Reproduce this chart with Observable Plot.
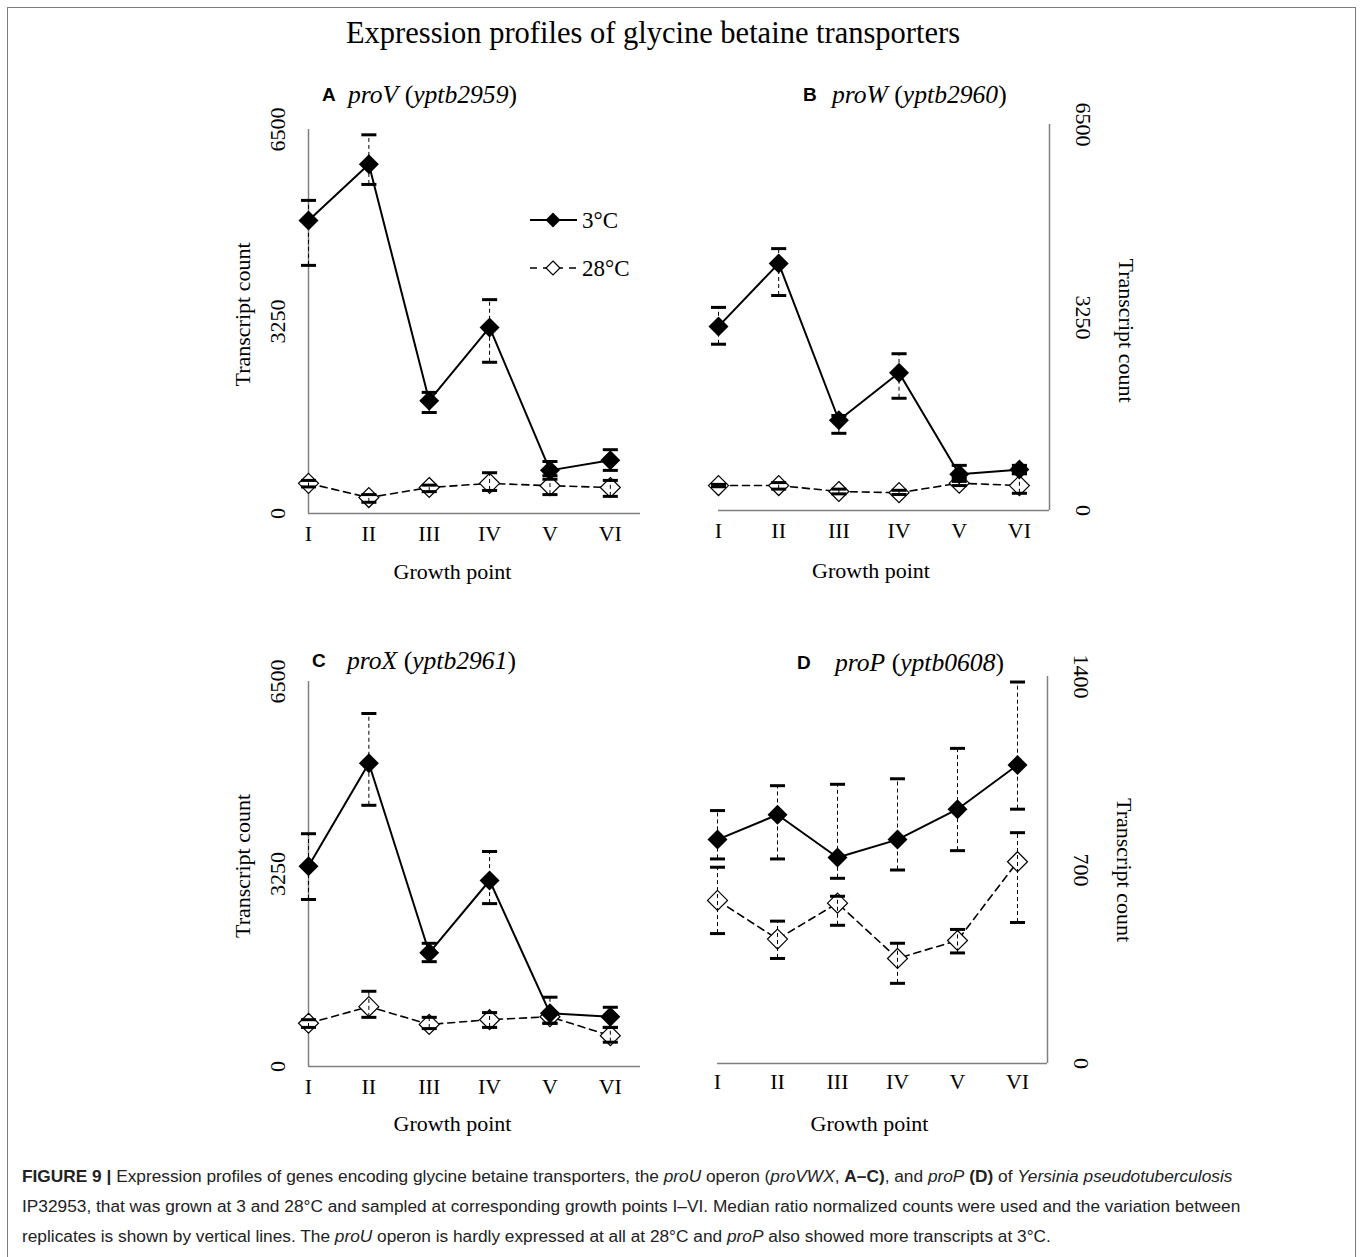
<!DOCTYPE html>
<html><head><meta charset="utf-8">
<script src="https://cdn.jsdelivr.net/npm/d3@7"></script>
<script src="https://cdn.jsdelivr.net/npm/@observablehq/plot@0.6"></script>
<style>
html,body{margin:0;padding:0;background:#fff;}
body{width:1360px;height:1257px;overflow:hidden;position:relative;font-family:"Liberation Serif","Times New Roman",serif;color:#000;}
.abs{position:absolute;}
#frame{left:7px;top:7px;width:1349px;height:1275px;border:1.5px solid #7c7c7c;box-sizing:border-box;}
#title{left:0;width:1306px;top:13px;text-align:center;font-size:30.5px;line-height:40px;white-space:nowrap;}
.letter{font-family:"Liberation Sans",Arial,sans-serif;font-weight:bold;font-size:19px;line-height:30px;}
.gene{font-size:25.6px;line-height:30px;white-space:nowrap;}
.panel{width:520px;height:530px;}
.cap{left:22px;font-family:"Liberation Sans",Arial,sans-serif;font-size:17.3px;line-height:30px;color:#222;white-space:nowrap;}
</style>
</head><body>
<div id="frame" class="abs"></div>
<div id="title" class="abs">Expression profiles of glycine betaine transporters</div>

<div class="abs letter" style="left:322px;top:80px">A</div>
<div class="abs gene" style="left:348px;top:80px"><i>proV</i> (<i>yptb2959</i>)</div>
<div class="abs letter" style="left:803px;top:80px">B</div>
<div class="abs gene" style="left:832px;top:80px"><i>proW</i> (<i>yptb2960</i>)</div>
<div class="abs letter" style="left:312px;top:646px">C</div>
<div class="abs gene" style="left:347px;top:646px"><i>proX</i> (<i>yptb2961</i>)</div>
<div class="abs letter" style="left:797px;top:648px">D</div>
<div class="abs gene" style="left:835px;top:648px"><i>proP</i> (<i>yptb0608</i>)</div>

<div id="pA" class="abs panel" style="left:190px;top:60px"></div>
<div id="pB" class="abs panel" style="left:640px;top:60px"></div>
<div id="pC" class="abs panel" style="left:190px;top:620px"></div>
<div id="pD" class="abs panel" style="left:640px;top:620px"></div>

<svg class="abs" style="left:520px;top:200px" width="120" height="90">
  <line x1="10" y1="20" x2="57" y2="20" stroke="#000" stroke-width="2"/>
  <path d="M33,12.5L40.5,20L33,27.5L25.5,20Z" fill="#000"/>
  <text x="62" y="20" dy="0.35em" font-size="23" font-family="Liberation Serif">3°C</text>
  <line x1="10" y1="68" x2="57" y2="68" stroke="#000" stroke-width="1.5" stroke-dasharray="7,6"/>
  <path d="M33,61L40,68L33,75L26,68Z" fill="#fff" stroke="#000" stroke-width="1.2"/>
  <text x="62" y="68" dy="0.35em" font-size="23" font-family="Liberation Serif">28°C</text>
</svg>

<div class="abs cap" style="top:1161px"><b>FIGURE 9 |</b> Expression profiles of genes encoding glycine betaine transporters, the <i>proU</i> operon (<i>proVWX</i>, <b>A–C)</b>, and <i>proP</i> <b>(D)</b> of <i>Yersinia pseudotuberculosis</i></div>
<div class="abs cap" style="top:1191px">IP32953, that was grown at 3 and 28°C and sampled at corresponding growth points I–VI. Median ratio normalized counts were used and the variation between</div>
<div class="abs cap" style="top:1221px">replicates is shown by vertical lines. The <i>proU</i> operon is hardly expressed at all at 28°C and <i>proP</i> also showed more transcripts at 3°C.</div>

<script>
// ---- data ----
const growthPoints = ["I", "II", "III", "IV", "V", "VI"];
const pointIndex = [0, 1, 2, 3, 4, 5];

const proV_3C      = [4960, 5910, 1910, 3150, 730, 900];
const proV_3C_low  = [4200, 5570, 1710, 2560, 640, 730];
const proV_3C_high = [5300, 6410, 2050, 3620, 880, 1080];
const proV_28C      = [510, 270, 440, 510, 470, 440];
const proV_28C_low  = [450, 190, 370, 390, 320, 290];
const proV_28C_high = [560, 320, 480, 690, 580, 560];

const proW_3C      = [3100, 4160, 1520, 2320, 610, 690];
const proW_3C_low  = [2800, 3620, 1300, 1890, 540, 620];
const proW_3C_high = [3420, 4410, 1600, 2640, 760, 760];
const proW_28C      = [420, 420, 320, 300, 460, 420];
const proW_28C_low  = [400, 360, 280, 270, 420, 290];
const proW_28C_high = [440, 470, 360, 340, 490, 620];

const proX_3C      = [3380, 5120, 1920, 3140, 900, 840];
const proX_3C_low  = [2820, 4410, 1770, 2750, 730, 660];
const proX_3C_high = [3930, 5960, 2080, 3630, 1170, 1000];
const proX_28C      = [730, 1010, 710, 790, 840, 520];
const proX_28C_low  = [660, 830, 640, 660, 730, 410];
const proX_28C_high = [790, 1270, 830, 910, 900, 660];

const proP_3C      = [810, 900, 745, 810, 920, 1080];
const proP_3C_low  = [740, 740, 670, 700, 770, 920];
const proP_3C_high = [915, 1005, 1010, 1030, 1140, 1380];
const proP_28C      = [590, 450, 580, 380, 445, 730];
const proP_28C_low  = [470, 380, 500, 290, 400, 510];
const proP_28C_high = [710, 515, 605, 435, 485, 835];

const ticks6500 = [0, 3250, 6500];
const ticks1400 = [0, 700, 1400];
const yLabel = "Transcript count";
const xLabel = "Growth point";

// ---- helpers ----
const rows = (v, lo, hi) => pointIndex.map(i => ({i, point: growthPoints[i], v: v[i], lo: lo[i], hi: hi[i]}));
const capSymbol = {draw(ctx, size) { const w = Math.sqrt(size) / 2; ctx.moveTo(-w, 0); ctx.lineTo(w, 0); }};
const serif = '"Liberation Serif","Times New Roman",serif';

function errorMarks(data) {
  return [
    Plot.ruleX(data, {x: "i", y1: "lo", y2: "hi", stroke: "#000", strokeWidth: 1, strokeDasharray: "4,3"}),
    Plot.dot(data, {x: "i", y: "lo", symbol: capSymbol, r: 8.5, fill: "none", stroke: "#000", strokeWidth: 3}),
    Plot.dot(data, {x: "i", y: "hi", symbol: capSymbol, r: 8.5, fill: "none", stroke: "#000", strokeWidth: 3})
  ];
}

function panel(o) {
  const cold = rows(...o.cold), warm = rows(...o.warm);
  const left = o.side === "left";
  const chart = Plot.plot({
    width: 520, height: 530,
    marginLeft: o.mL, marginRight: o.mR, marginTop: o.mT, marginBottom: o.mB,
    x: {domain: [0, 5.5], axis: null},
    y: {domain: [0, o.ymax], axis: null},
    style: {fontFamily: serif, fontSize: "22px", background: "none", overflow: "visible"},
    marks: [
      Plot.ruleY([0], {stroke: "#808080", strokeWidth: 1.5}),
      Plot.ruleX([left ? 0 : 5.5], {stroke: "#808080", strokeWidth: 1.5}),
      Plot.text(pointIndex, {x: d => d, text: d => growthPoints[d], frameAnchor: "bottom", dy: o.tickDy, fontSize: 22, fontFamily: serif}),
      Plot.text([xLabel], {frameAnchor: "bottom", dy: o.labDy, dx: o.labDx, fontSize: 22, fontFamily: serif}),
      Plot.text(o.yTicks, {y: d => d, text: d => String(d), frameAnchor: o.side, textAnchor: "middle", dx: left ? -31 : 34, rotate: left ? -90 : 90, fontSize: 22, fontFamily: serif}),
      Plot.text([yLabel], {frameAnchor: o.side, textAnchor: "middle", dx: left ? -66 : 77, dy: o.ylDy || 0, rotate: left ? -90 : 90, fontSize: 22, fontFamily: serif}),
      Plot.line(warm, {x: "i", y: "v", stroke: "#000", strokeWidth: 1.6, strokeDasharray: "7,5"}),
      Plot.line(cold, {x: "i", y: "v", stroke: "#000", strokeWidth: 2}),
      Plot.dot(warm, {x: "i", y: "v", symbol: "diamond2", r: 9, fill: "#fff", stroke: "#000", strokeWidth: 1.2}),
      Plot.dot(cold, {x: "i", y: "v", symbol: "diamond2", r: 9, fill: "#000"}),
      ...errorMarks(warm),
      ...errorMarks(cold)
    ]
  });
  document.getElementById(o.id).appendChild(chart);
}

panel({id: "pA", side: "left", mL: 118, mR: 70, mT: 69, mB: 77, ymax: 6500, yTicks: ticks6500, tickDy: 27, labDy: 65, labDx: -22, ylDy: -7,
  cold: [proV_3C, proV_3C_low, proV_3C_high], warm: [proV_28C, proV_28C_low, proV_28C_high]});
panel({id: "pB", side: "right", mL: 78, mR: 111, mT: 64, mB: 80, ymax: 6500, yTicks: ticks6500, tickDy: 27, labDy: 67, labDx: -13, ylDy: 13,
  cold: [proW_3C, proW_3C_low, proW_3C_high], warm: [proW_28C, proW_28C_low, proW_28C_high]});
panel({id: "pC", side: "left", mL: 118, mR: 70, mT: 61, mB: 84, ymax: 6500, yTicks: ticks6500, tickDy: 27, labDy: 64, labDx: -22, ylDy: -8,
  cold: [proX_3C, proX_3C_low, proX_3C_high], warm: [proX_28C, proX_28C_low, proX_28C_high]});
panel({id: "pD", side: "right", mL: 77, mR: 113, mT: 56, mB: 87, ymax: 1400, yTicks: ticks1400, tickDy: 25, labDy: 67, labDx: -13,
  cold: [proP_3C, proP_3C_low, proP_3C_high], warm: [proP_28C, proP_28C_low, proP_28C_high]});
</script>
</body></html>
